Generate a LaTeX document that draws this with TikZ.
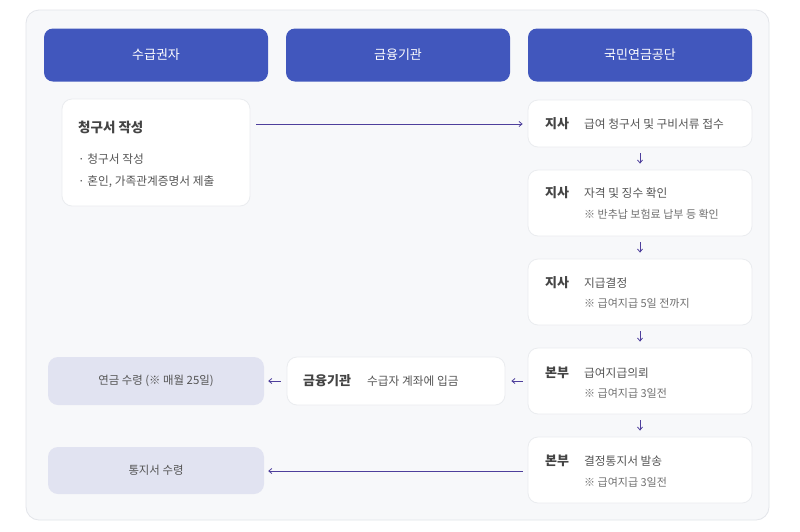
\documentclass[tikz,border=0pt]{standalone}
\usepackage{fontspec}
\setmainfont{Noto Sans CJK KR}
\usetikzlibrary{arrows.meta}
\definecolor{hdr}{HTML}{4157BD}
\definecolor{panelbg}{HTML}{F7F8FA}
\definecolor{panelln}{HTML}{E3E5EA}
\definecolor{boxln}{HTML}{EAECEF}
\definecolor{lav}{HTML}{E1E3F1}
\definecolor{arr}{HTML}{4E3F9C}
\definecolor{tdark}{HTML}{444444}
\definecolor{tmid}{HTML}{555555}
\definecolor{tnote}{HTML}{707070}
\tikzset{
  hdrbox/.style={draw=none, fill=hdr, rounded corners=9pt, minimum width=224pt, minimum height=53pt, inner sep=0pt, text=white, font=\fontsize{13}{15}\selectfont},
  wbox/.style={draw=boxln, line width=0.8pt, fill=white, rounded corners=10pt, inner sep=0pt},
  lbox/.style={draw=none, fill=lav, rounded corners=10pt, inner sep=0pt, minimum width=216pt, text=tmid, font=\fontsize{11.4}{13}\selectfont},
  who/.style={anchor=west, inner sep=0pt, text=tdark, font=\fontsize{13}{15}\selectfont\bfseries},
  desc/.style={anchor=west, inner sep=0pt, text=tmid, font=\fontsize{11.7}{13}\selectfont},
  note/.style={anchor=west, inner sep=0pt, text=tnote, font=\fontsize{11}{12}\selectfont},
  flow/.style={draw=arr, line width=0.8pt, -{Straight Barb[length=3pt,width=5pt]}},
}
\begin{document}
\begin{tikzpicture}[x=1pt,y=-1pt]
\useasboundingbox (0,0) rectangle (800,531);
\fill[white] (0,0) rectangle (800,531);
\draw[draw=panelln, fill=panelbg, line width=0.8pt, rounded corners=13pt] (26,10) rectangle (769,520);

% headers
\node[hdrbox] (h1) at (156,55) {수급권자};
\node[hdrbox] (h2) at (398,55) {금융기관};
\node[hdrbox] (h3) at (640,55) {국민연금공단};

% claimant box
\node[wbox, minimum width=188pt, minimum height=107pt] (cq) at (156,152.5) {};
\node[anchor=west, inner sep=0pt, text=tdark, font=\fontsize{13.5}{15}\selectfont\bfseries] (cqt) at (78,127) {청구서 작성};
\node[desc] (cq1) at (78,159) {· 청구서 작성};
\node[desc] (cq2) at (78,182) {· 혼인, 가족관계증명서 제출};

% NPS boxes
\node[wbox, minimum width=224pt, minimum height=47pt] (b1) at (640,123.5) {};
\node[who] (b1w) at (545,124) {지사};
\node[desc] (b1d) at (584,124) {급여 청구서 및 구비서류 접수};

\node[wbox, minimum width=224pt, minimum height=66pt] (b2) at (640,203) {};
\node[who] (b2w) at (545,193) {지사};
\node[desc] (b2d) at (584,193) {자격 및 징수 확인};
\node[note] (b2n) at (584,214) {※ 반추납 보험료 납부 등 확인};

\node[wbox, minimum width=224pt, minimum height=66pt] (b3) at (640,292) {};
\node[who] (b3w) at (545,283) {지사};
\node[desc] (b3d) at (584,283) {지급결정};
\node[note] (b3n) at (584,303) {※ 급여지급 5일 전까지};

\node[wbox, minimum width=224pt, minimum height=66pt] (b4) at (640,381) {};
\node[who] (b4w) at (545,373) {본부};
\node[desc] (b4d) at (584,373) {급여지급의뢰};
\node[note] (b4n) at (584,393) {※ 급여지급 3일전};

\node[wbox, minimum width=224pt, minimum height=66pt] (b5) at (640,470) {};
\node[who] (b5w) at (545,461) {본부};
\node[desc] (b5d) at (584,461) {결정통지서 발송};
\node[note] (b5n) at (584,482) {※ 급여지급 3일전};

% bank box
\node[wbox, minimum width=218pt, minimum height=48pt] (bk) at (396,381) {};
\node[who] (bkw) at (303,381) {금융기관};
\node[desc] (bkd) at (367,381) {수급자 계좌에 입금};

% receipt boxes
\node[lbox, minimum height=48pt] (r1) at (156,381) {연금 수령 (※ 매월 25일)};
\node[lbox, minimum height=47pt] (r2) at (156,470.5) {통지서 수령};

% connectors
\draw[flow, shorten <=6pt, shorten >=5pt] (cq.east |- 0,124) -- (b1.west |- 0,124);
\draw[flow, shorten <=6pt, shorten >=6pt] (b1.south) -- (b2.north);
\draw[flow, shorten <=6pt, shorten >=6pt] (b2.south) -- (b3.north);
\draw[flow, shorten <=6pt, shorten >=6pt] (b3.south) -- (b4.north);
\draw[flow, shorten <=6pt, shorten >=6pt] (b4.south) -- (b5.north);
\draw[flow, shorten <=5pt, shorten >=6pt] (b4.west) -- (bk.east);
\draw[flow, shorten <=6pt, shorten >=4pt] (bk.west) -- (r1.east);
\draw[flow, shorten <=5pt, shorten >=4pt] (b5.west |- 0,471) -- (r2.east |- 0,471);
\end{tikzpicture}
\end{document}
